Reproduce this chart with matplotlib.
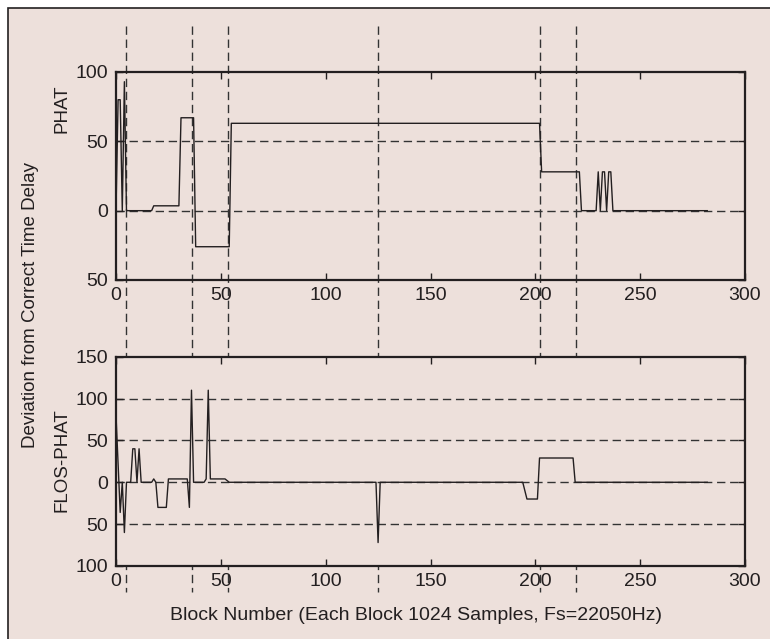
import numpy as np
import matplotlib
matplotlib.use("Agg")
import matplotlib.pyplot as plt
from matplotlib.patches import Rectangle
from matplotlib.ticker import FuncFormatter
import matplotlib.transforms as mtransforms

plt.rcParams['font.family'] = ['Liberation Sans', 'DejaVu Sans']

BG = '#ede0db'
INK = '#231f20'

# vertices of the two traces (block number, deviation)
phat_x = [0, 1, 2, 3, 4, 5, 17, 18, 30, 31, 37, 38, 54, 55, 202, 203, 221, 222,
          229, 230, 231, 232, 233, 234, 235, 236, 237, 282]
phat_y = [0, 80, 80, 0, 93, 0, 0, 3.5, 3.5, 67, 67, -26, -26, 63, 63, 28, 28, 0,
          0, 28, 0, 28, 28, 0, 28, 28, 0, 0]

flos_x = [0, 2, 3, 4, 5, 7, 8, 9, 10, 11, 12, 17, 18, 19, 20, 24, 25, 33, 34, 35, 36,
          37, 42, 43, 44, 45, 52, 54, 124, 125, 126, 194, 196, 201, 202, 218, 219, 282]
flos_y = [80, -36, 0, -60, 0, 0, 40, 40, 0, 40, 0, 0, 4, 0, -30, -30, 4, 4, 4, -30, 110,
          0, 0, 4, 110, 4, 4, 0, 0, -72, 0, 0, -20, -20, 29, 29, 0, 0]

# blocks marked with the vertical dashed lines
events = [4.6, 36.2, 53.4, 124.8, 202.2, 219.5]

xticks = [0, 50, 100, 150, 200, 250, 300]
phat_yticks = [-50, 0, 50, 100]
phat_grid = [0, 50]
flos_yticks = [-100, -50, 0, 50, 100, 150]
flos_grid = [-50, 0, 50, 100]

W, H = 770, 639
fig = plt.figure(figsize=(W / 100, H / 100), dpi=100)
fig.patch.set_facecolor('white')
fig.add_artist(Rectangle((8 / W, -0.05), 1.1, 1.05 - 8 / H, transform=fig.transFigure,
                         facecolor=BG, edgecolor=INK, lw=1.2, zorder=-10))

ax1 = fig.add_axes([116 / W, 1 - 280 / H, 629 / W, 208 / H])
ax2 = fig.add_axes([116 / W, 1 - 566 / H, 629 / W, 209.3 / H])

dash = (0, (6, 3.4))
absfmt = FuncFormatter(lambda v, p: '%d' % abs(v))

def style(ax, yticks, ylim, grid):
    ax.set_facecolor(BG)
    ax.set_xlim(0, 300)
    ax.set_ylim(*ylim)
    ax.set_xticks(xticks)
    ax.set_yticks(yticks)
    ax.yaxis.set_major_formatter(absfmt)
    for g in grid:
        ax.axhline(g, color='#333333', lw=1.0, ls=dash, zorder=1)
    for s in ax.spines.values():
        s.set_linewidth(1.6)
        s.set_color(INK)
    ax.tick_params(direction='in', length=5, width=1, color=INK, top=True, right=True,
                   labelsize=14, labelcolor=INK)
    ax.tick_params(axis='x', pad=5)
    ax.tick_params(axis='y', pad=6)

style(ax1, phat_yticks, (-50, 100), phat_grid)
style(ax2, flos_yticks, (-100, 150), flos_grid)

ax1.plot(phat_x, phat_y, color=INK, lw=1.0, zorder=3)
ax2.plot(flos_x, flos_y, color=INK, lw=1.0, zorder=3)

# event lines run through both panels
trans = mtransforms.blended_transform_factory(ax1.transData, fig.transFigure)
for e in events:
    ax1.plot([e, e], [1 - 26 / H, 1 - 592 / H], transform=trans, clip_on=False,
             color='#333333', lw=1.0, ls=dash, zorder=2)

fig.text(62 / W, 1 - 109 / H, 'PHAT', rotation=90, ha='center', va='center',
         fontsize=13.5, color=INK)
fig.text(62 / W, 1 - 460 / H, 'FLOS-PHAT', rotation=90, ha='center', va='center',
         fontsize=13.5, color=INK)
fig.text(31 / W, 1 - 305 / H, 'Deviation from Correct Time Delay', rotation=90,
         ha='center', va='center', fontsize=13.5, color=INK)
fig.text(416 / W, 1 - 615 / H, 'Block Number (Each Block 1024 Samples, Fs=22050Hz)',
         ha='center', va='center', fontsize=14, color=INK)

fig.savefig('out.png', dpi=100, facecolor=fig.get_facecolor())
